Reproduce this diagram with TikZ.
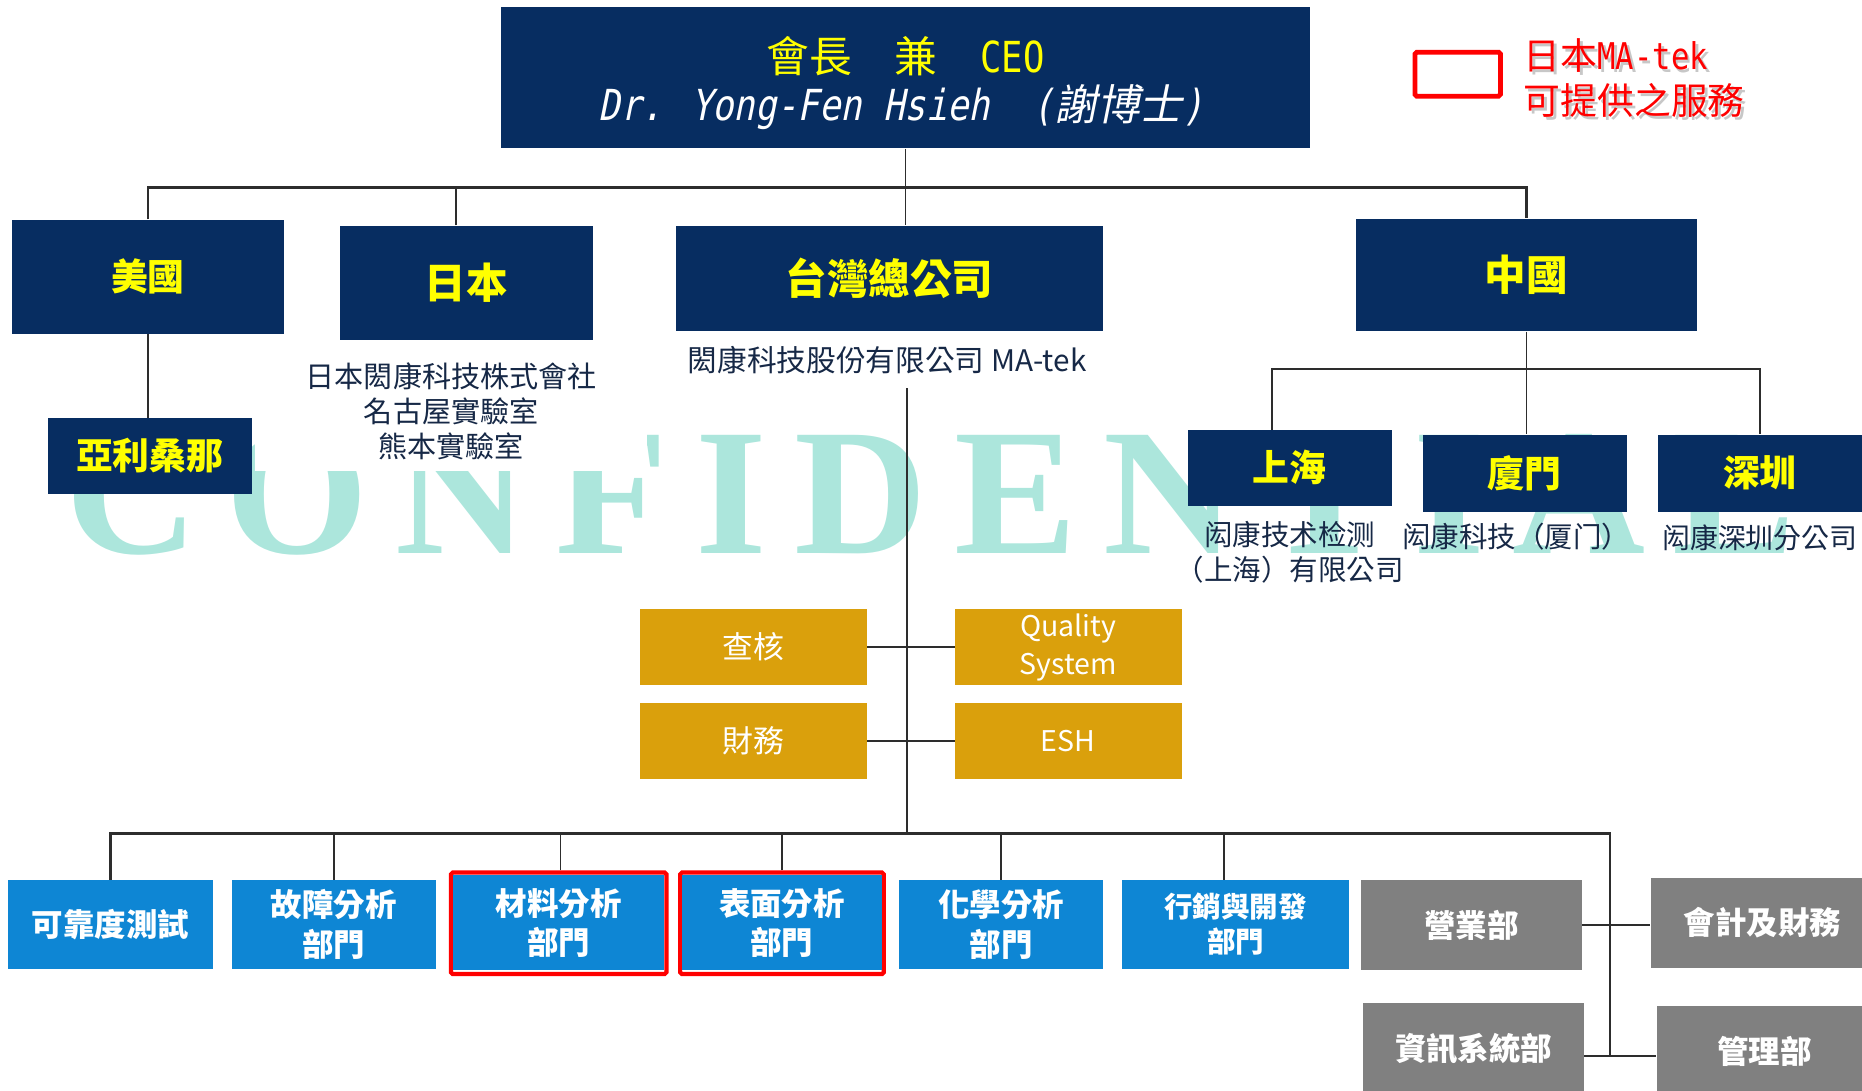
\documentclass[tikz,border=0pt]{standalone}
\usepackage{fontspec}
\setmainfont{Noto Sans CJK TC}
\newfontfamily\cjk{Noto Sans CJK TC}
\newfontfamily\cjkit[FakeSlant=0.2]{Noto Sans CJK TC}
\newfontfamily\mono[FakeStretch=0.83]{DejaVu Sans Mono}
\newfontfamily\monoit[FakeStretch=0.83,FakeSlant=0.2]{DejaVu Sans Mono}
\newfontfamily\wmfont[FakeStretch=1.02,LetterSpace=15]{Liberation Serif}
\definecolor{navy}{RGB}{7,45,97}
\definecolor{ylw}{RGB}{255,255,0}
\definecolor{subtxt}{RGB}{22,40,70}
\definecolor{bluefill}{RGB}{14,134,212}
\definecolor{grayfill}{RGB}{128,128,128}
\definecolor{goldfill}{RGB}{218,160,12}
\definecolor{wmcol}{RGB}{172,230,220}
\definecolor{conncol}{RGB}{45,45,45}
\tikzset{
  wh/.style 2 args={minimum width=#1pt, minimum height=#2pt},
  navybox/.style={fill=navy, text=ylw, inner sep=0pt, font=\bfseries\fontsize{31}{36}\selectfont},
  bluebox/.style={fill=bluefill, text=white, inner sep=0pt, align=center, font=\bfseries\fontsize{26.5}{33}\selectfont},
  graybox/.style={fill=grayfill, text=white, inner sep=0pt, align=center, font=\bfseries\fontsize{26.5}{33}\selectfont},
  goldbox/.style={fill=goldfill, text=white, inner sep=0pt, align=center, font=\fontsize{26}{32}\selectfont},
  redframe/.style={draw=red, line width=3.5pt, fill=white, rounded corners=1.5pt, inner sep=0pt},
  sub/.style={text=subtxt, align=center, inner sep=0pt},
  conn/.style={draw=conncol, line width=1.5pt},
  busline/.style={draw=conncol, line width=2pt},
}
\begin{document}
\begin{tikzpicture}[x=1pt,y=-1pt]
\useasboundingbox (0,0) rectangle (1568,918);
% watermark
\node[anchor=base west, text=wmcol, inner sep=0pt, font=\wmfont\bfseries\fontsize{152}{152}\selectfont] (wmark) at (55,466) {CONFIDENTIAL};

% CEO
\node[fill=navy, wh={681}{119}, inner sep=0pt] (ceo) at (762.5,65.5) {};
\node[text=ylw, inner sep=0pt, font=\fontsize{36}{36}\selectfont] (ceo1) at (762.5,47) {{\cjk 會長　兼　}{\mono CEO}};
\node[text=white, inner sep=0pt, font=\fontsize{36}{36}\selectfont] (ceo2) at (759,90) {{\monoit Dr. Yong-Fen Hsieh~~(}{\cjkit 謝博士}{\monoit )}};

% legend
\node[redframe, fill=none, line width=4pt, wh={72}{37}] (legbox) at (1227.5,62.5) {};
\node[anchor=west, text=black!22, inner sep=0pt, align=left, font=\fontsize{31}{38}\selectfont] (legshadow) at (1285.5,68.5) {{\cjk 日本}{\mono MA-tek}\\{\cjk 可提供之服務}};
\node[anchor=west, text=red, inner sep=0pt, align=left, font=\fontsize{31}{38}\selectfont] (legtxt) at (1283,66) {{\cjk 日本}{\mono MA-tek}\\{\cjk 可提供之服務}};

% level 1
\node[navybox, wh={229}{96}] (usa) at (124.5,233) {美國};
\node[navybox, wh={213}{96}, font=\bfseries\fontsize{35}{40}\selectfont] (jp) at (392.5,238) {日本};
\node[navybox, wh={360}{89}, font=\bfseries\fontsize{35}{40}\selectfont] (tw) at (749,234.5) {台灣總公司};
\node[navybox, wh={287}{95}, font=\bfseries\fontsize{35}{40}\selectfont] (cn) at (1285.5,231.5) {中國};
\node[navybox, wh={172}{64}] (ari) at (126,384) {亞利桑那};
\node[navybox, wh={172}{64}] (sh) at (1086,394) {上海};
\node[navybox, wh={172}{65}] (xm) at (1284,398.5) {廈門};
\node[navybox, wh={172}{65}] (sz) at (1482,398.5) {深圳};

% sub texts
\node[sub, fill=white, wh={330}{102}, font=\fontsize{24.5}{29.5}\selectfont] (jptxt) at (380,346) {日本閎康科技株式會社\\名古屋實驗室\\熊本實驗室};
\node[sub, font=\fontsize{25}{29}\selectfont] (twtxt) at (747,303) {閎康科技股份有限公司 MA-tek};
\node[sub, font=\fontsize{24}{30}\selectfont] (shtxt) at (1086,465) {闳康技术检测\\（上海）有限公司};
\node[sub, font=\fontsize{24}{29}\selectfont] (xmtxt) at (1277,452) {闳康科技（厦门）};
\node[sub, font=\fontsize{23.5}{29}\selectfont] (sztxt) at (1482,453) {闳康深圳分公司};

% gold staff boxes
\node[goldbox, wh={191}{64}] (audit) at (634.5,545) {查核};
\node[goldbox, wh={191}{64}, font=\fontsize{24}{32}\selectfont] (qs) at (899.5,545) {Quality\\System};
\node[goldbox, wh={191}{64}] (fin) at (634.5,624) {財務};
\node[goldbox, wh={191}{64}, font=\fontsize{24}{32}\selectfont] (esh) at (899.5,624) {ESH};

% bottom departments
\node[bluebox, wh={172}{75}] (rel) at (93,778.5) {可靠度測試};
\node[bluebox, wh={172}{75}] (fa) at (281,778.5) {故障分析\\部門};
\node[redframe, wh={181.5}{85.5}] (matf) at (470.5,777.5) {};
\node[bluebox, wh={178}{80}] (mat) at (470.5,777) {材料分析\\部門};
\node[redframe, wh={171.5}{85.5}] (surff) at (658.5,777.5) {};
\node[bluebox, wh={168}{80}] (surf) at (658.5,777) {表面分析\\部門};
\node[bluebox, wh={172}{75}] (chem) at (843,778.5) {化學分析\\部門};
\node[bluebox, wh={191}{75}, font=\bfseries\fontsize{24}{29.5}\selectfont] (mkt) at (1040.5,778.5) {行銷與開發\\部門};

\node[graybox, wh={186}{76}] (sales) at (1239,779) {營業部};
\node[graybox, wh={188}{76}] (acct) at (1484,777) {會計及財務};
\node[graybox, wh={186}{76}] (mis) at (1241,883) {資訊系統部};
\node[graybox, wh={182}{76}] (mgmt) at (1486,885) {管理部};

% connectors
\coordinate (twv) at (764,327);
\coordinate (junc) at (1356,889);
\draw[conn] (ceo.south) -- (ceo.south |- tw.north);
\draw[busline] (usa.north) -- ++(0,-27) -| (cn.north);
\draw[conn] ([xshift=-8.5pt]jp.north) -- ++(0,-32);
\draw[conn] (usa.south) -- (usa.south |- ari.north);
\draw[conn] (cn.south) -- (cn.south |- xm.north);
\draw[busline] ([xshift=-15pt]sh.north) -- ++(0,-51) -| (sz.north);

\draw[conn] (twv) -- ++(0,375);
\draw[conn] (audit.east) -- (qs.west);
\draw[conn] (fin.east) -- (esh.west);

\draw[busline] (rel.north) -- ++(0,-39) -| (junc);
\draw[conn] (fa.north) -- ++(0,-39);
\draw[conn] ([xshift=1.5pt]matf.north) -- ++(0,-32);
\draw[conn] (surff.north) -- ++(0,-32);
\draw[conn] (chem.north) -- ++(0,-39);
\draw[conn] ([xshift=-9.5pt]mkt.north) -- ++(0,-39);
\draw[conn] (sales.east) -- (sales.east -| acct.west);
\draw[conn] (mis.east |- junc) -- (mgmt.west |- junc);
\end{tikzpicture}
\end{document}
